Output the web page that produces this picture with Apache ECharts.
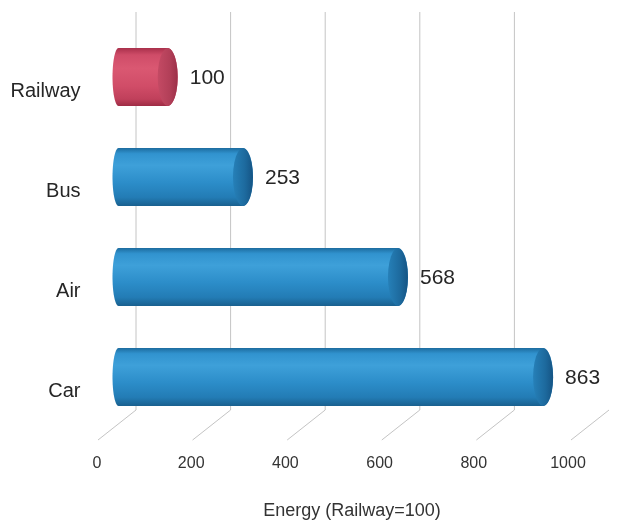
<!DOCTYPE html>
<html>
<head>
<meta charset="utf-8">
<script src="https://cdn.jsdelivr.net/npm/echarts@6/dist/echarts.min.js"></script>
<style>
html, body { margin: 0; padding: 0; background: #fff; }
#main { width: 627px; height: 521px; }
</style>
</head>
<body>
<div id="main"></div>
<script>
// chart data
var categories = ['Railway', 'Bus', 'Air', 'Car'];
var values = [100, 253, 568, 863];
var wallTicks = [0, 200, 400, 600, 800];
var floorTicks = [0, 200, 400, 600, 800, 1000];
var axisName = 'Energy (Railway=100)';
var baseline = 'Railway';

var FONT = '"Liberation Sans", Arial, sans-serif';

var blue = {
    body: [[0, '#1d6c9f'], [0.1, '#3193cf'], [0.3, '#3ea0d9'], [0.6, '#2c8dc9'], [0.85, '#237cb5'], [1, '#19608f']],
    face: [[0, '#2680b8'], [0.6, '#1d6a9e'], [1, '#155484']]
};
var red = {
    body: [[0, '#a9304b'], [0.12, '#cf4c68'], [0.35, '#da5872'], [0.65, '#d14d68'], [0.88, '#c0405b'], [1, '#9e2c45']],
    face: [[0, '#c44a64'], [0.6, '#b23f58'], [1, '#9c3049']]
};

function stops(list) {
    return list.map(function (s) { return { offset: s[0], color: s[1] }; });
}

// points of half an ellipse, from angle a0 to a1
function arcPts(cx, cy, rx, ry, a0, a1) {
    var pts = [];
    var n = 24;
    for (var i = 0; i <= n; i++) {
        var a = a0 + (a1 - a0) * i / n;
        pts.push([cx + rx * Math.cos(a), cy + ry * Math.sin(a)]);
    }
    return pts;
}

function renderBar(params, api) {
    var idx = api.value(1);
    var val = api.value(0);
    var start = api.coord([0, idx]);
    var end = api.coord([val, idx]);
    var ry = api.size([0, 1])[1] * 0.29;
    var x0 = start[0], x1 = end[0], cy = start[1];
    var rx = 10, lrx = 6;
    var pal = categories[idx] === baseline ? red : blue;

    // silhouette: right half-ellipse at end, left half-ellipse at start
    var body = arcPts(x1, cy, rx, ry, -Math.PI / 2, Math.PI / 2)
        .concat(arcPts(x0, cy, lrx, ry, Math.PI / 2, Math.PI * 1.5));
    var face = arcPts(x1, cy, rx, ry, 0, Math.PI * 2);

    return {
        type: 'group',
        children: [{
            type: 'polygon',
            shape: { points: body },
            style: { fill: new echarts.graphic.LinearGradient(0, 0, 0, 1, stops(pal.body)) }
        }, {
            type: 'polygon',
            shape: { points: face },
            style: { fill: new echarts.graphic.LinearGradient(0, 0, 1, 0, stops(pal.face)) }
        }, {
            type: 'text',
            x: x1 + rx + 12,
            y: cy + 1,
            style: {
                text: String(val),
                fontSize: 21,
                fontFamily: FONT,
                fill: '#262626',
                align: 'left',
                verticalAlign: 'middle'
            }
        }]
    };
}

function renderWall(params, api) {
    var p0 = api.coord([api.value(0), 0]);
    var p1 = api.coord([api.value(0), 1]);
    return {
        type: 'line',
        shape: { x1: p0[0], y1: p0[1], x2: p1[0], y2: p1[1] },
        style: { stroke: '#c4c4c4', lineWidth: 1 }
    };
}

function renderFloor(params, api) {
    var p = api.coord([api.value(0), 0]);
    return {
        type: 'line',
        shape: { x1: p[0], y1: p[1], x2: p[0] - 38, y2: p[1] + 30 },
        style: { stroke: '#c4c4c4', lineWidth: 1 }
    };
}

var hidden = { show: false };

var myChart = echarts.init(document.getElementById('main'));
myChart.setOption({
    backgroundColor: '#ffffff',
    animation: false,
    grid: [
        { left: 118.5, top: 27, width: 492, height: 400, outerBoundsMode: 'none' },   // bars
        { left: 136, top: 12, width: 473, height: 398, outerBoundsMode: 'none' },     // back wall
        { left: 97, top: 12, width: 471, bottom: 81, outerBoundsMode: 'none' },       // front axis
        { left: 118.5, top: 41, width: 492, height: 400, outerBoundsMode: 'none' }    // category labels
    ],
    xAxis: [
        { gridIndex: 0, type: 'value', min: 0, max: 1000, show: false },
        { gridIndex: 1, type: 'value', min: 0, max: 1000, show: false },
        {
            gridIndex: 2, type: 'value', min: 0, max: 1000, interval: 200,
            axisLine: hidden, axisTick: hidden, splitLine: hidden,
            axisLabel: {
                fontSize: 16, color: '#333', fontFamily: FONT, margin: 16,
                formatter: function (v) { return String(v); }
            },
            name: axisName,
            nameLocation: 'middle',
            nameGap: 62,
            nameTextStyle: { fontSize: 18, color: '#333', fontFamily: FONT, padding: [0, 0, 0, 39] }
        },
        { gridIndex: 3, type: 'value', min: 0, max: 1000, show: false }
    ],
    yAxis: [
        { gridIndex: 0, type: 'category', data: categories, inverse: true, show: false },
        { gridIndex: 1, type: 'value', min: 0, max: 1, show: false },
        { gridIndex: 2, type: 'value', show: false },
        {
            gridIndex: 3, type: 'category', data: categories, inverse: true,
            axisLine: hidden, axisTick: hidden, splitLine: hidden,
            axisLabel: { fontSize: 20, color: '#262626', fontFamily: FONT, margin: 38 }
        }
    ],
    series: [{
        type: 'custom',
        xAxisIndex: 1, yAxisIndex: 1,
        renderItem: renderWall,
        data: wallTicks.map(function (v) { return [v]; }),
        silent: true,
        z: 1
    }, {
        type: 'custom',
        xAxisIndex: 1, yAxisIndex: 1,
        renderItem: renderFloor,
        data: floorTicks.map(function (v) { return [v]; }),
        silent: true,
        z: 1
    }, {
        type: 'custom',
        xAxisIndex: 0, yAxisIndex: 0,
        renderItem: renderBar,
        data: values.map(function (v, i) { return [v, i]; }),
        z: 5
    }]
});
</script>
</body>
</html>
